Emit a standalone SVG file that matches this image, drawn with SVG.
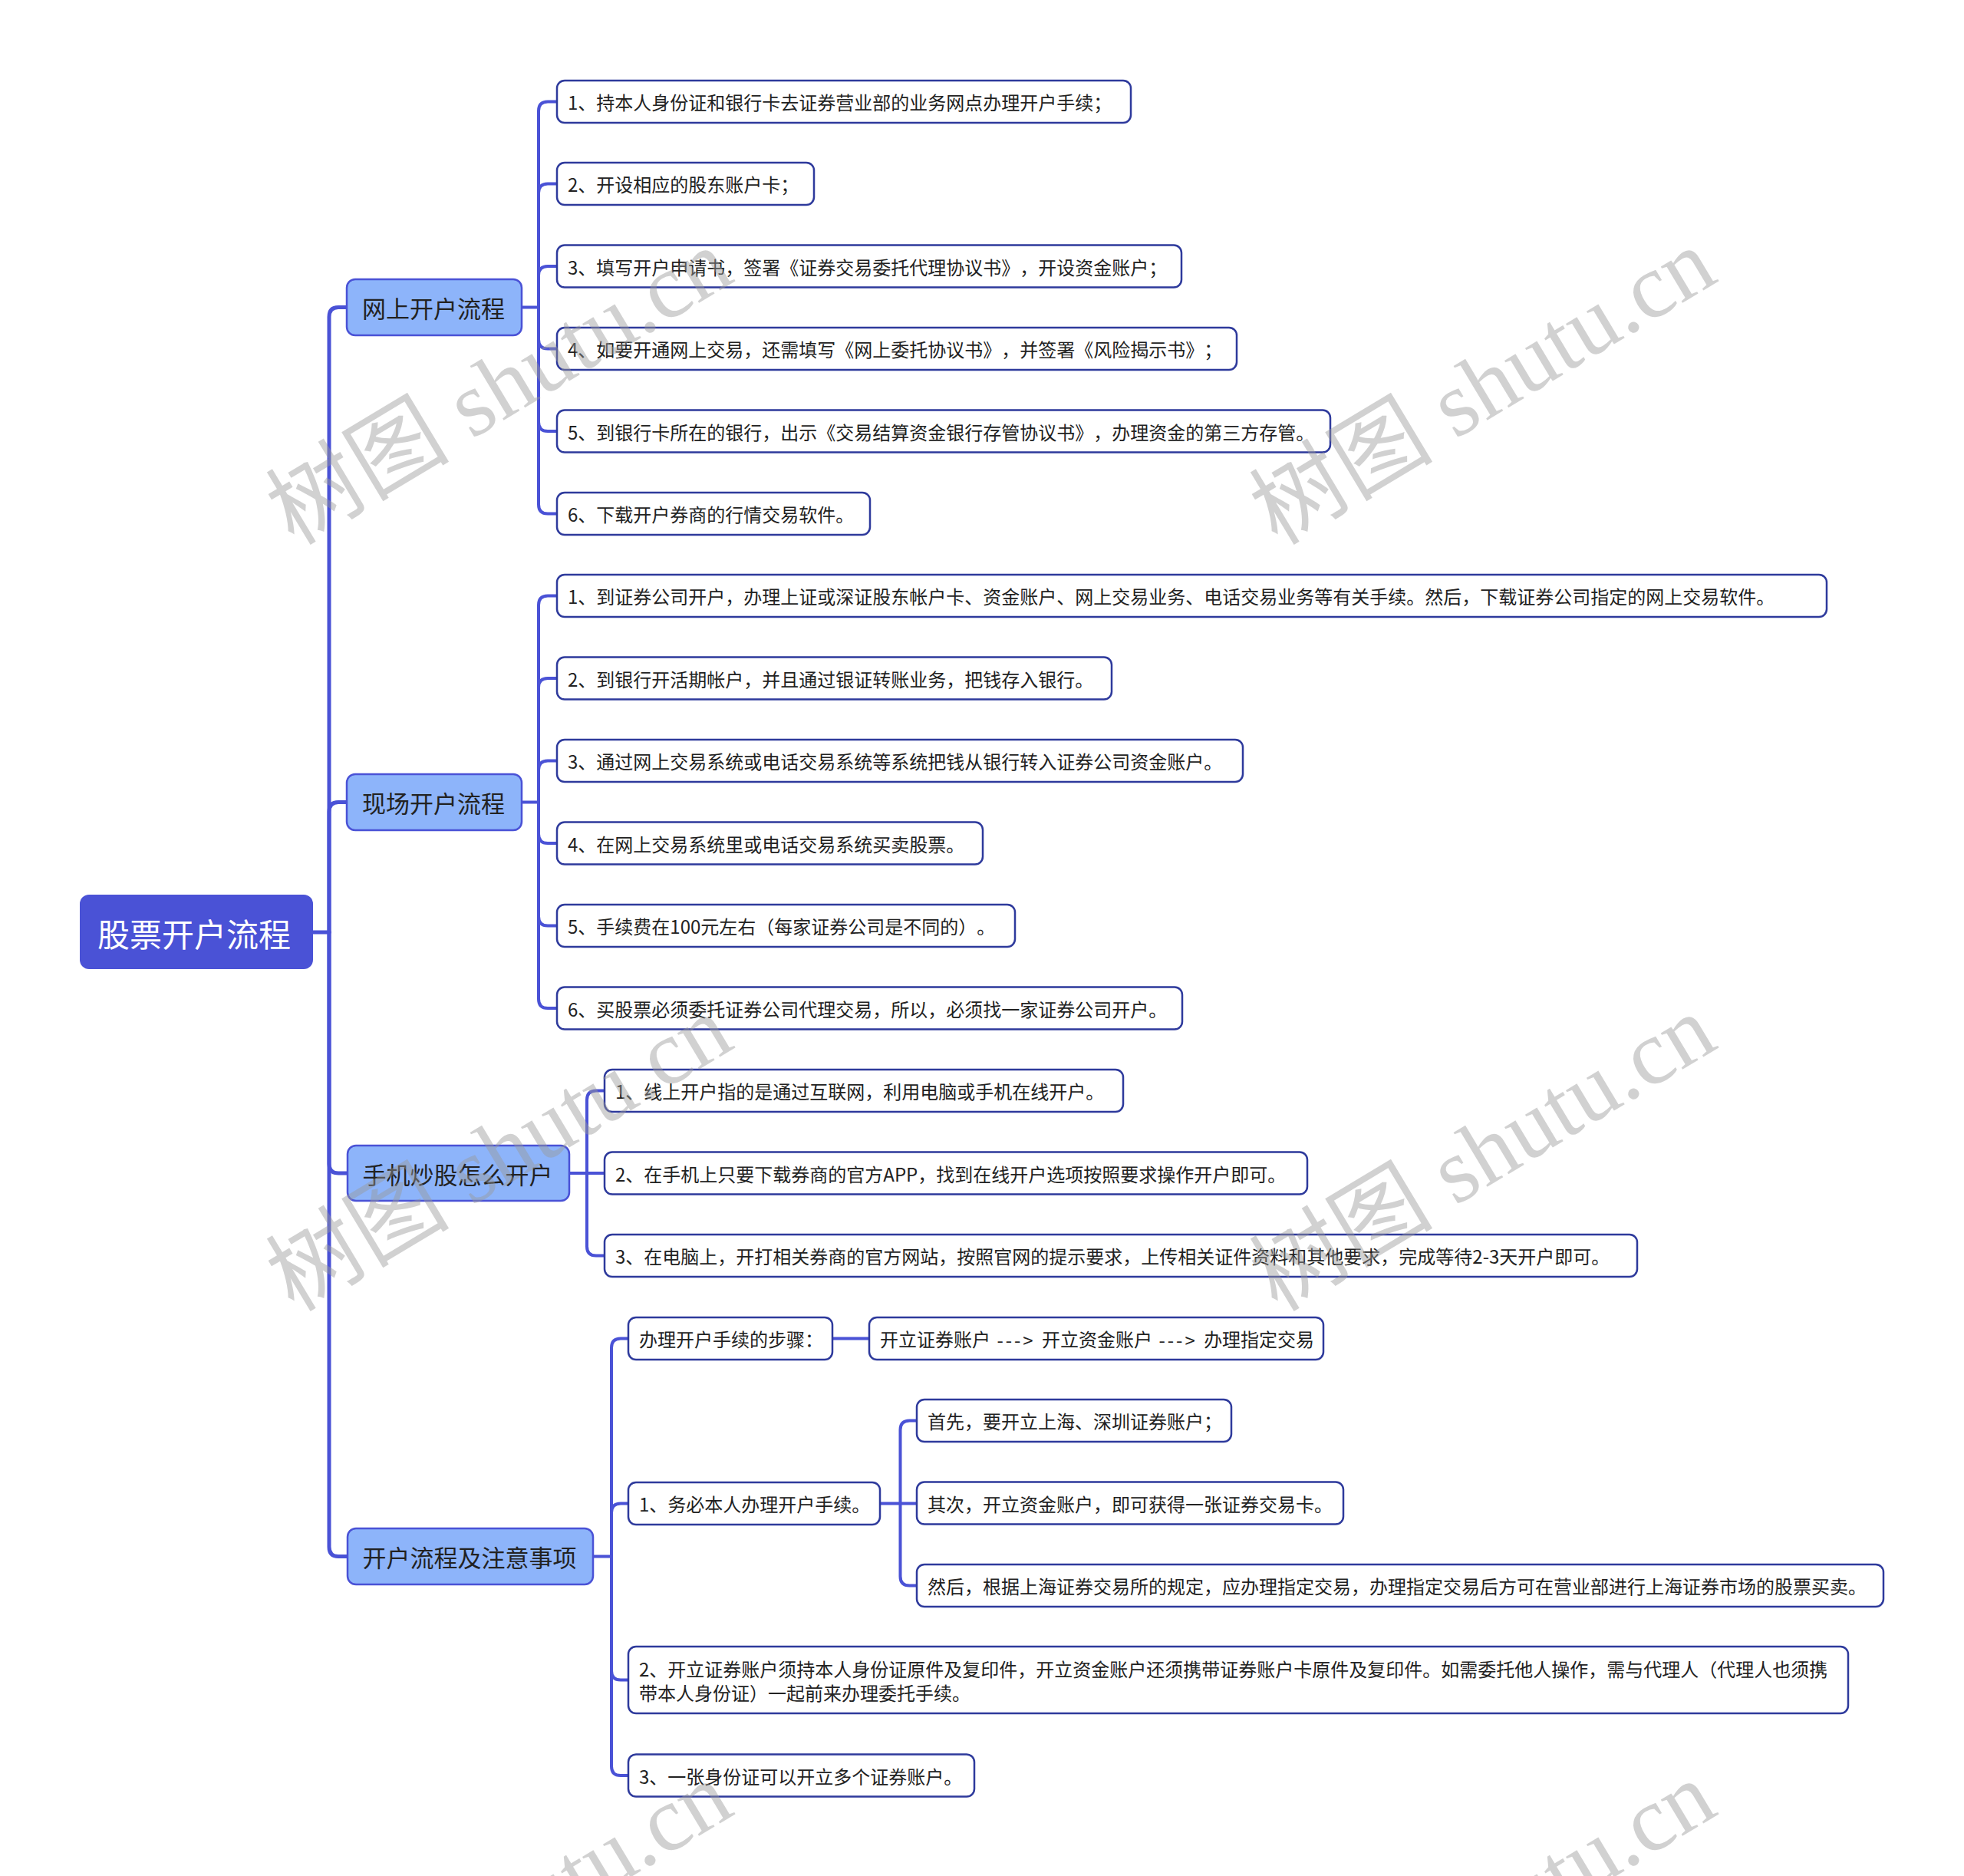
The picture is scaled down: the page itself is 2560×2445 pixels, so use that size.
<svg xmlns="http://www.w3.org/2000/svg" width="2560" height="2445" viewBox="0 0 2560 2445">
<style>
.t{font-family:"Noto Sans CJK SC","Microsoft YaHei",sans-serif;dominant-baseline:central;text-spacing-trim:space-all;}
.root rect{fill:#4a52d6;}
.root text{fill:#ffffff;font-size:42px;text-anchor:middle;}
.l1 rect{fill:#8db4fa;stroke:#4a52d6;stroke-width:2.5;}
.l1 text{fill:#222222;font-size:31px;text-anchor:middle;}
.l2 rect{fill:#ffffff;stroke:#2e3a9c;stroke-width:2.5;}
.l2 text{fill:#222222;font-size:24px;}
.arr{letter-spacing:3px;}
.c{fill:none;stroke:#4a52d6;stroke-linecap:round;stroke-linejoin:round;}
.c5{stroke-width:5;}
.c4{stroke-width:4;}
.wm{font-family:"Liberation Serif","Noto Sans CJK SC",serif;font-size:120px;fill:#9a9a9a;fill-opacity:0.45;}
</style>
<rect width="2560" height="2445" fill="#ffffff"/>
<g id="connectors">
  <path class="c c5" d="M408 1215 L429 1215"/>
  <path class="c c5" d="M429 1215 L429 413 Q429 400.5 441 400.5 L452 400.5"/>
  <path class="c c5" d="M429 1215 L429 1058 Q429 1045.5 441 1045.5 L452 1045.5"/>
  <path class="c c5" d="M429 1215 L429 1517 Q429 1529 441 1529 L453 1529"/>
  <path class="c c5" d="M429 1215 L429 2016 Q429 2028.5 441 2028.5 L453 2028.5"/>
  <path class="c c4" d="M680 400.5 L702 400.5"/>
  <path class="c c4" d="M702 400.5 L702 144.5 Q702 132.5 714 132.5 L726 132.5"/>
  <path class="c c4" d="M702 400.5 L702 251.5 Q702 239.5 714 239.5 L726 239.5"/>
  <path class="c c4" d="M702 400.5 L702 359 Q702 347 714 347 L726 347"/>
  <path class="c c4" d="M702 400.5 L702 442.5 Q702 454.5 714 454.5 L726 454.5"/>
  <path class="c c4" d="M702 400.5 L702 550 Q702 562 714 562 L726 562"/>
  <path class="c c4" d="M702 400.5 L702 657.5 Q702 669.5 714 669.5 L726 669.5"/>
  <path class="c c4" d="M680 1045.5 L702 1045.5"/>
  <path class="c c4" d="M702 1045.5 L702 788.5 Q702 776.5 714 776.5 L726 776.5"/>
  <path class="c c4" d="M702 1045.5 L702 896 Q702 884 714 884 L726 884"/>
  <path class="c c4" d="M702 1045.5 L702 1003.5 Q702 991.5 714 991.5 L726 991.5"/>
  <path class="c c4" d="M702 1045.5 L702 1087 Q702 1099 714 1099 L726 1099"/>
  <path class="c c4" d="M702 1045.5 L702 1194.5 Q702 1206.5 714 1206.5 L726 1206.5"/>
  <path class="c c4" d="M702 1045.5 L702 1302 Q702 1314 714 1314 L726 1314"/>
  <path class="c c4" d="M742 1529 L765 1529"/>
  <path class="c c4" d="M765 1529 L765 1433.5 Q765 1421.5 777 1421.5 L788 1421.5"/>
  <path class="c c4" d="M765 1529 L788 1529"/>
  <path class="c c4" d="M765 1529 L765 1624.5 Q765 1636.5 777 1636.5 L788 1636.5"/>
  <path class="c c4" d="M773 2028.5 L797 2028.5"/>
  <path class="c c4" d="M797 2028.5 L797 1756.5 Q797 1744.5 809 1744.5 L819 1744.5"/>
  <path class="c c4" d="M797 2028.5 L797 1971.5 Q797 1959.5 809 1959.5 L819 1959.5"/>
  <path class="c c4" d="M797 2028.5 L797 2177.5 Q797 2189.5 809 2189.5 L819 2189.5"/>
  <path class="c c4" d="M797 2028.5 L797 2302 Q797 2314 809 2314 L819 2314"/>
  <path class="c c4" d="M1085 1744.5 L1133 1744.5"/>
  <path class="c c4" d="M1147 1959.5 L1173.5 1959.5"/>
  <path class="c c4" d="M1173.5 1959.5 L1173.5 1863.5 Q1173.5 1851.5 1185.5 1851.5 L1195 1851.5"/>
  <path class="c c4" d="M1173.5 1959.5 L1195 1959.5"/>
  <path class="c c4" d="M1173.5 1959.5 L1173.5 2054.5 Q1173.5 2066.5 1185.5 2066.5 L1195 2066.5"/>
</g>
<g id="root" class="root">
  <rect x="104" y="1166" width="304" height="97" rx="12"/>
  <text class="t" x="253" y="1215">股票开户流程</text>
</g>
<g id="n-a" class="l1">
  <rect x="452" y="364" width="228" height="73" rx="11"/>
  <text class="t" x="565" y="400.5">网上开户流程</text>
</g>
<g id="n-b" class="l1">
  <rect x="452" y="1009" width="228" height="73" rx="11"/>
  <text class="t" x="565" y="1045.5">现场开户流程</text>
</g>
<g id="n-c" class="l1">
  <rect x="453" y="1493" width="289" height="72" rx="11"/>
  <text class="t" x="596.5" y="1529">手机炒股怎么开户</text>
</g>
<g id="n-d" class="l1">
  <rect x="453" y="1992" width="320" height="73" rx="11"/>
  <text class="t" x="612" y="2028.5">开户流程及注意事项</text>
</g>
<g id="n-a1" class="l2"><rect x="726" y="105" width="748" height="55" rx="10"/><text class="t" x="740" y="132.5">1、持本人身份证和银行卡去证券营业部的业务网点办理开户手续；</text></g>
<g id="n-a2" class="l2"><rect x="726" y="212" width="335" height="55" rx="10"/><text class="t" x="740" y="239.5">2、开设相应的股东账户卡；</text></g>
<g id="n-a3" class="l2"><rect x="726" y="319.5" width="814" height="55" rx="10"/><text class="t" x="740" y="347">3、填写开户申请书，签署《证券交易委托代理协议书》，开设资金账户；</text></g>
<g id="n-a4" class="l2"><rect x="726" y="427" width="886" height="55" rx="10"/><text class="t" x="740" y="454.5">4、如要开通网上交易，还需填写《网上委托协议书》，并签署《风险揭示书》；</text></g>
<g id="n-a5" class="l2"><rect x="726" y="534.5" width="1008" height="55" rx="10"/><text class="t" x="740" y="562">5、到银行卡所在的银行，出示《交易结算资金银行存管协议书》，办理资金的第三方存管。</text></g>
<g id="n-a6" class="l2"><rect x="726" y="642" width="408" height="55" rx="10"/><text class="t" x="740" y="669.5">6、下载开户券商的行情交易软件。</text></g>
<g id="n-b1" class="l2"><rect x="726" y="749" width="1655" height="55" rx="10"/><text class="t" x="740" y="776.5">1、到证券公司开户，办理上证或深证股东帐户卡、资金账户、网上交易业务、电话交易业务等有关手续。然后，下载证券公司指定的网上交易软件。</text></g>
<g id="n-b2" class="l2"><rect x="726" y="856.5" width="723" height="55" rx="10"/><text class="t" x="740" y="884">2、到银行开活期帐户，并且通过银证转账业务，把钱存入银行。</text></g>
<g id="n-b3" class="l2"><rect x="726" y="964" width="894" height="55" rx="10"/><text class="t" x="740" y="991.5">3、通过网上交易系统或电话交易系统等系统把钱从银行转入证券公司资金账户。</text></g>
<g id="n-b4" class="l2"><rect x="726" y="1071.5" width="555" height="55" rx="10"/><text class="t" x="740" y="1099">4、在网上交易系统里或电话交易系统买卖股票。</text></g>
<g id="n-b5" class="l2"><rect x="726" y="1179" width="597" height="55" rx="10"/><text class="t" x="740" y="1206.5">5、手续费在100元左右（每家证券公司是不同的）。</text></g>
<g id="n-b6" class="l2"><rect x="726" y="1286.5" width="815" height="55" rx="10"/><text class="t" x="740" y="1314">6、买股票必须委托证券公司代理交易，所以，必须找一家证券公司开户。</text></g>
<g id="n-c1" class="l2"><rect x="788" y="1394" width="676" height="55" rx="10"/><text class="t" x="802" y="1421.5">1、线上开户指的是通过互联网，利用电脑或手机在线开户。</text></g>
<g id="n-c2" class="l2"><rect x="788" y="1501.5" width="916" height="55" rx="10"/><text class="t" x="802" y="1529">2、在手机上只要下载券商的官方APP，找到在线开户选项按照要求操作开户即可。</text></g>
<g id="n-c3" class="l2"><rect x="788" y="1609" width="1346" height="55" rx="10"/><text class="t" x="802" y="1636.5">3、在电脑上，开打相关券商的官方网站，按照官网的提示要求，上传相关证件资料和其他要求，完成等待2-3天开户即可。</text></g>
<g id="n-d1" class="l2"><rect x="819" y="1717" width="266" height="55" rx="10"/><text class="t" x="833" y="1744.5">办理开户手续的步骤：</text></g>
<g id="n-d1a" class="l2"><rect x="1133" y="1717" width="592" height="55" rx="10"/><text class="t" x="1147" y="1744.5">开立证券账户<tspan class="arr"> ---&gt; </tspan>开立资金账户<tspan class="arr"> ---&gt; </tspan>办理指定交易</text></g>
<g id="n-d2" class="l2"><rect x="819" y="1932" width="328" height="55" rx="10"/><text class="t" x="833" y="1959.5">1、务必本人办理开户手续。</text></g>
<g id="n-d2a" class="l2"><rect x="1195" y="1824" width="410" height="55" rx="10"/><text class="t" x="1209" y="1851.5">首先，要开立上海、深圳证券账户；</text></g>
<g id="n-d2b" class="l2"><rect x="1195" y="1931.5" width="556" height="55" rx="10"/><text class="t" x="1209" y="1959">其次，开立资金账户，即可获得一张证券交易卡。</text></g>
<g id="n-d2c" class="l2"><rect x="1195" y="2039" width="1260" height="55" rx="10"/><text class="t" x="1209" y="2066.5">然后，根据上海证券交易所的规定，应办理指定交易，办理指定交易后方可在营业部进行上海证券市场的股票买卖。</text></g>
<g id="n-d3" class="l2"><rect x="819" y="2146" width="1590" height="87" rx="10"/><text class="t" x="833" y="2174.5">2、开立证券账户须持本人身份证原件及复印件，开立资金账户还须携带证券账户卡原件及复印件。如需委托他人操作，需与代理人（代理人也须携</text><text class="t" x="833" y="2205">带本人身份证）一起前来办理委托手续。</text></g>
<g id="n-d4" class="l2"><rect x="819" y="2286.5" width="451" height="55" rx="10"/><text class="t" x="833" y="2314">3、一张身份证可以开立多个证券账户。</text></g>
<g id="watermarks">
  <text class="wm" transform="translate(383 712) rotate(-31)">树图 shutu.cn</text>
  <text class="wm" transform="translate(1665 712) rotate(-31)">树图 shutu.cn</text>
  <text class="wm" transform="translate(383 1711) rotate(-31)">树图 shutu.cn</text>
  <text class="wm" transform="translate(1665 1711) rotate(-31)">树图 shutu.cn</text>
  <text class="wm" transform="translate(383 2710) rotate(-31)">树图 shutu.cn</text>
  <text class="wm" transform="translate(1665 2710) rotate(-31)">树图 shutu.cn</text>
</g>
</svg>
